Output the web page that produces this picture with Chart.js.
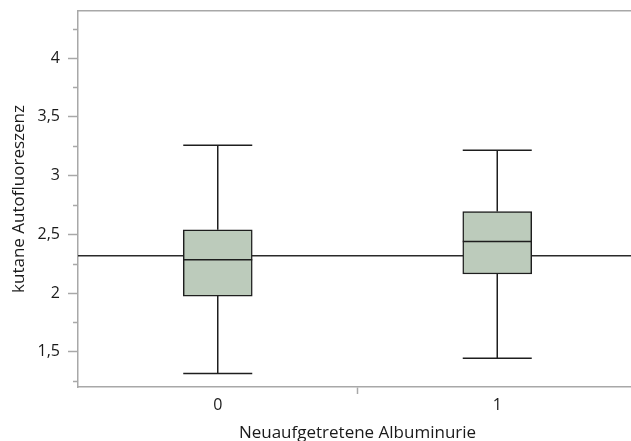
<!DOCTYPE html>
<html>
<head>
<meta charset="utf-8">
<script src="https://cdn.jsdelivr.net/npm/chart.js@4/dist/chart.umd.min.js"></script>
<style>
  html, body { margin: 0; padding: 0; background: #fff; overflow: hidden; }
  #wrap { position: relative; width: 637px; height: 441px; }
</style>
</head>
<body>
<div id="wrap"><canvas id="chart"></canvas></div>
<script>
// Boxplot: kutane Autofluoreszenz nach neu aufgetretener Albuminurie
const categories = ['0', '1']
const whiskerLow = [1.315, 1.445]
const quartile1 = [1.974, 2.162]
const medians = [2.282, 2.438]
const quartile3 = [2.538, 2.694]
const whiskerHigh = [3.258, 3.214]
const referenceValue = 2.318
const yTicks = [1.5, 2, 2.5, 3, 3.5, 4]
const yMinorTicks = [1.25, 1.75, 2.25, 2.75, 3.25, 3.75, 4.25]

const fontFamily = '"Open Sans", "Noto Sans", sans-serif'
const axisGray = '#a8a8a8'
const lineDark = '#1e1e1e'
const boxWidth = 69

// whiskers, caps, medians, reference line and minor ticks via the scales
const boxExtras = {
  id: 'boxExtras',
  beforeDatasetsDraw(chart) {
    const { ctx, chartArea, scales: { y } } = chart
    const yRef = y.getPixelForValue(referenceValue)
    ctx.save()
    ctx.strokeStyle = '#2a2a2a'
    ctx.lineWidth = 1.5
    ctx.beginPath()
    ctx.moveTo(chartArea.left, yRef)
    ctx.lineTo(chartArea.right, yRef)
    ctx.stroke()
    ctx.restore()
  },
  afterDatasetsDraw(chart) {
    const { ctx, chartArea, scales: { x, y } } = chart
    ctx.save()
    ctx.strokeStyle = lineDark
    ctx.lineWidth = 1.5
    categories.forEach((c, i) => {
      const cx = x.getPixelForValue(i)
      const half = boxWidth / 2
      ctx.beginPath()
      // upper whisker
      ctx.moveTo(cx, y.getPixelForValue(quartile3[i]))
      ctx.lineTo(cx, y.getPixelForValue(whiskerHigh[i]))
      ctx.moveTo(cx - half, y.getPixelForValue(whiskerHigh[i]))
      ctx.lineTo(cx + half, y.getPixelForValue(whiskerHigh[i]))
      // lower whisker
      ctx.moveTo(cx, y.getPixelForValue(quartile1[i]))
      ctx.lineTo(cx, y.getPixelForValue(whiskerLow[i]))
      ctx.moveTo(cx - half, y.getPixelForValue(whiskerLow[i]))
      ctx.lineTo(cx + half, y.getPixelForValue(whiskerLow[i]))
      // median
      ctx.moveTo(cx - half, y.getPixelForValue(medians[i]))
      ctx.lineTo(cx + half, y.getPixelForValue(medians[i]))
      ctx.stroke()
    })
    // minor ticks on the y axis
    ctx.strokeStyle = axisGray
    ctx.lineWidth = 1.5
    ctx.beginPath()
    yMinorTicks.forEach(v => {
      const py = Math.round(y.getPixelForValue(v)) + 0.5
      ctx.moveTo(chartArea.left - 5, py)
      ctx.lineTo(chartArea.left, py)
    })
    ctx.stroke()
    ctx.restore()
  }
}

new Chart(document.getElementById('chart'), {
  type: 'bar',
  data: {
    labels: categories,
    datasets: [{
      data: categories.map((c, i) => [quartile1[i], quartile3[i]]),
      backgroundColor: '#bccbbb',
      borderColor: lineDark,
      borderWidth: 1.5,
      borderSkipped: false,
      barThickness: boxWidth
    }]
  },
  options: {
    responsive: true,
    maintainAspectRatio: false,
    animation: false,
    events: [],
    layout: { padding: { top: 11, right: 0, bottom: 0, left: 0 } },
    plugins: {
      legend: { display: false },
      tooltip: { enabled: false }
    },
    scales: {
      x: {
        type: 'category',
        offset: true,
        grid: {
          display: true,
          drawOnChartArea: false,
          offset: true,
          tickLength: 7,
          tickColor: ctx => ctx.index === 1 ? axisGray : 'rgba(0,0,0,0)',
          tickWidth: 1.5
        },
        border: { display: true, color: axisGray, width: 1.5 },
        ticks: {
          color: '#1a1a1a',
          padding: 2,
          font: { family: fontFamily, size: 16 }
        },
        title: {
          display: true,
          text: 'Neuaufgetretene Albuminurie',
          color: '#1a1a1a',
          padding: { top: 0, bottom: -1 },
          font: { family: fontFamily, size: 17, lineHeight: 1 }
        },
        afterFit(axis) { axis.height = 54 }
      },
      xTop: {
        type: 'category',
        position: 'top',
        grid: { display: false },
        border: { display: true, color: axisGray, width: 1.5 },
        ticks: { display: false },
        afterFit(axis) { axis.height = 0 }
      },
      y: {
        min: 1.2,
        max: 4.4,
        grid: {
          display: true,
          drawOnChartArea: false,
          tickLength: 10,
          tickColor: axisGray,
          tickWidth: 1.5
        },
        border: { display: true, color: axisGray, width: 1.5 },
        afterBuildTicks(axis) { axis.ticks = yTicks.map(v => ({ value: v })) },
        ticks: {
          color: '#1a1a1a',
          padding: 8,
          font: { family: fontFamily, size: 16 },
          callback: v => String(v).replace('.', ',')
        },
        title: {
          display: true,
          text: 'kutane Autofluoreszenz',
          color: '#1a1a1a',
          padding: { top: 9, bottom: 0 },
          font: { family: fontFamily, size: 17 }
        },
        afterFit(axis) {
          axis.width = 78
          axis.paddingTop = 0
          axis.paddingBottom = 0
        }
      }
    }
  },
  plugins: [boxExtras]
})
</script>
</body>
</html>
